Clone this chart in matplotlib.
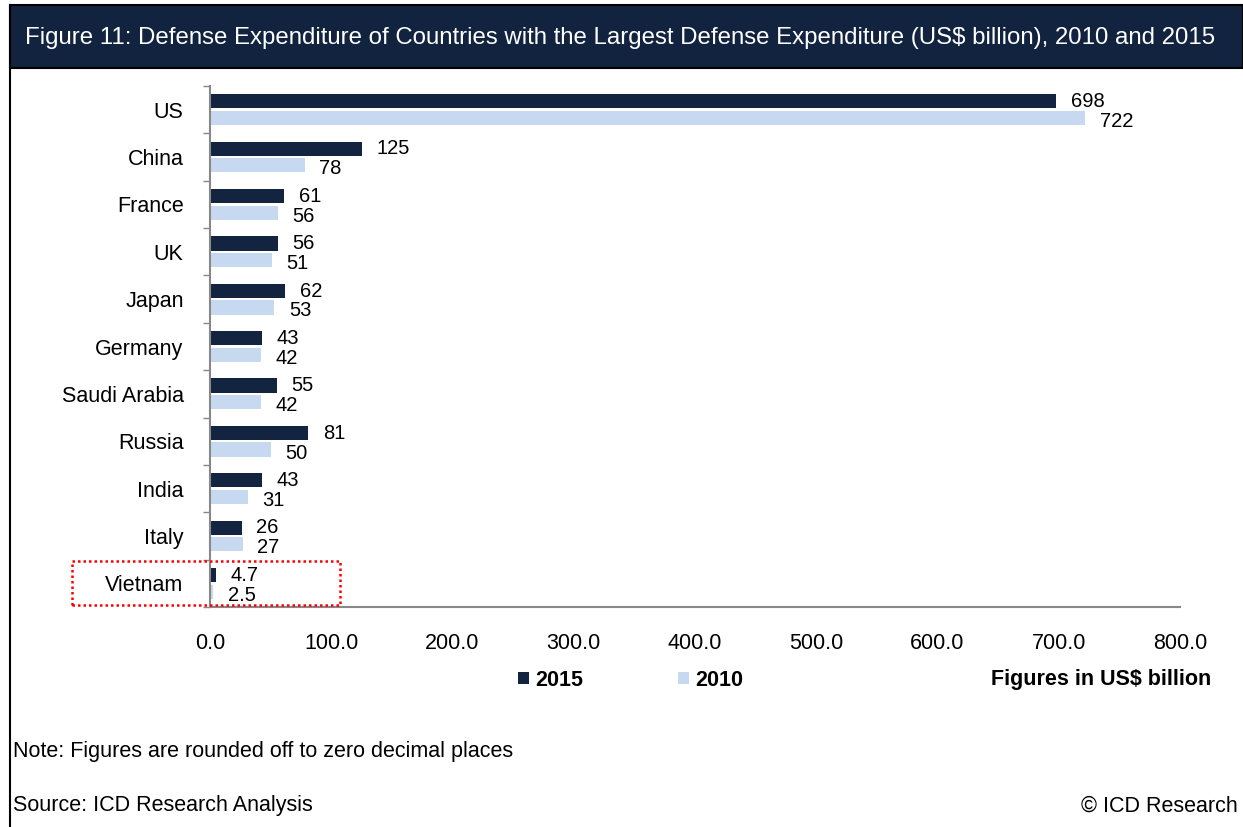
import numpy as np
import matplotlib.pyplot as plt
from matplotlib.patches import Rectangle

plt.rcParams['font.family'] = ['Liberation Sans', 'DejaVu Sans']

countries = ['US', 'China', 'France', 'UK', 'Japan', 'Germany', 'Saudi Arabia',
             'Russia', 'India', 'Italy', 'Vietnam']
spend_2015 = [698, 125, 61, 56, 62, 43, 55, 81, 43, 26, 4.7]
spend_2010 = [722, 78, 56, 51, 53, 42, 42, 50, 31, 27, 2.5]
labels_2015 = ['698', '125', '61', '56', '62', '43', '55', '81', '43', '26', '4.7']
labels_2010 = ['722', '78', '56', '51', '53', '42', '42', '50', '31', '27', '2.5']
xticks = [0, 100, 200, 300, 400, 500, 600, 700, 800]

dark = '#12243f'
light = '#c6d9f0'
fs = 15.5

fig = plt.figure(figsize=(12.43, 8.27), dpi=100)
W, H = 1243, 827

def fx(px):
    return px / W

def fy(py):
    return 1 - py / H

# header band
fig.patches.append(Rectangle((fx(10), fy(68)), fx(1233), 63 / H, transform=fig.transFigure,
                             facecolor='#11233f', edgecolor='black', lw=1.5))
fig.text(fx(25), fy(38), 'Figure 11: Defense Expenditure of Countries with the Largest Defense '
         'Expenditure (US$ billion), 2010 and 2015', color='white', fontsize=17.3,
         va='center', ha='left')
# left border
fig.add_artist(plt.Line2D([fx(10), fx(10)], [0, fy(5)], color='black', lw=1.5,
                          transform=fig.transFigure))

ax = fig.add_axes([fx(210), fy(607), fx(970), 521 / H])
n = len(countries)
y = np.arange(n)
h = 0.3
off = 0.175
ax.barh(y - off, spend_2015, height=h, color=dark, label='2015')
ax.barh(y + off, spend_2010, height=h, color=light, label='2010')

# value labels, stacked tight like the original
for i in range(n):
    ax.text(spend_2015[i] + 12, y[i] - 0.17, labels_2015[i], fontsize=14.5,
            va='center', ha='left')
    ax.text(spend_2010[i] + 12, y[i] + 0.25, labels_2010[i], fontsize=14.5,
            va='center', ha='left')

ax.set_ylim(n - 0.5, -0.5)
ax.set_xlim(0, 800)
ax.set_yticks(y)
ax.set_yticklabels(countries, fontsize=fs)
ax.set_yticks(np.arange(n + 1) - 0.5, minor=True)
ax.tick_params(axis='y', which='major', length=0, pad=19)
ax.tick_params(axis='y', which='minor', length=5, color='#888888', width=1)
ax.set_xticks(xticks)
ax.set_xticklabels([f'{v:.1f}' for v in xticks], fontsize=fs)
ax.tick_params(axis='x', length=0, pad=19)
for s in ['top', 'right']:
    ax.spines[s].set_visible(False)
for s in ['left', 'bottom']:
    ax.spines[s].set_color('#888888')
    ax.spines[s].set_linewidth(1.5)

# legend
ax.legend(loc='center left', bbox_to_anchor=((518 - 210) / 970, -(680 - 607) / 521),
          ncol=2, frameon=False, handlelength=0.5, handleheight=0.5,
          columnspacing=4.4, handletextpad=0.3, borderaxespad=0, borderpad=0,
          prop={'weight': 'bold', 'size': fs})
fig.text(fx(1211), fy(680), 'Figures in US$ billion', fontsize=fs, fontweight='bold',
         ha='right', va='center')

# red dotted box around Vietnam
fig.patches.append(Rectangle((fx(72), fy(605)), fx(268), 44 / H, transform=fig.transFigure,
                             fill=False, edgecolor='red', lw=1.8, linestyle=(0, (1, 1.2))))

fig.text(fx(13), fy(752), 'Note: Figures are rounded off to zero decimal places',
         fontsize=fs, va='center')
fig.text(fx(13), fy(806), 'Source: ICD Research Analysis', fontsize=fs, va='center')
fig.text(fx(1238), fy(806), '\u00a9 ICD Research', fontsize=fs, va='center', ha='right')

fig.savefig('out.png', dpi=100)
